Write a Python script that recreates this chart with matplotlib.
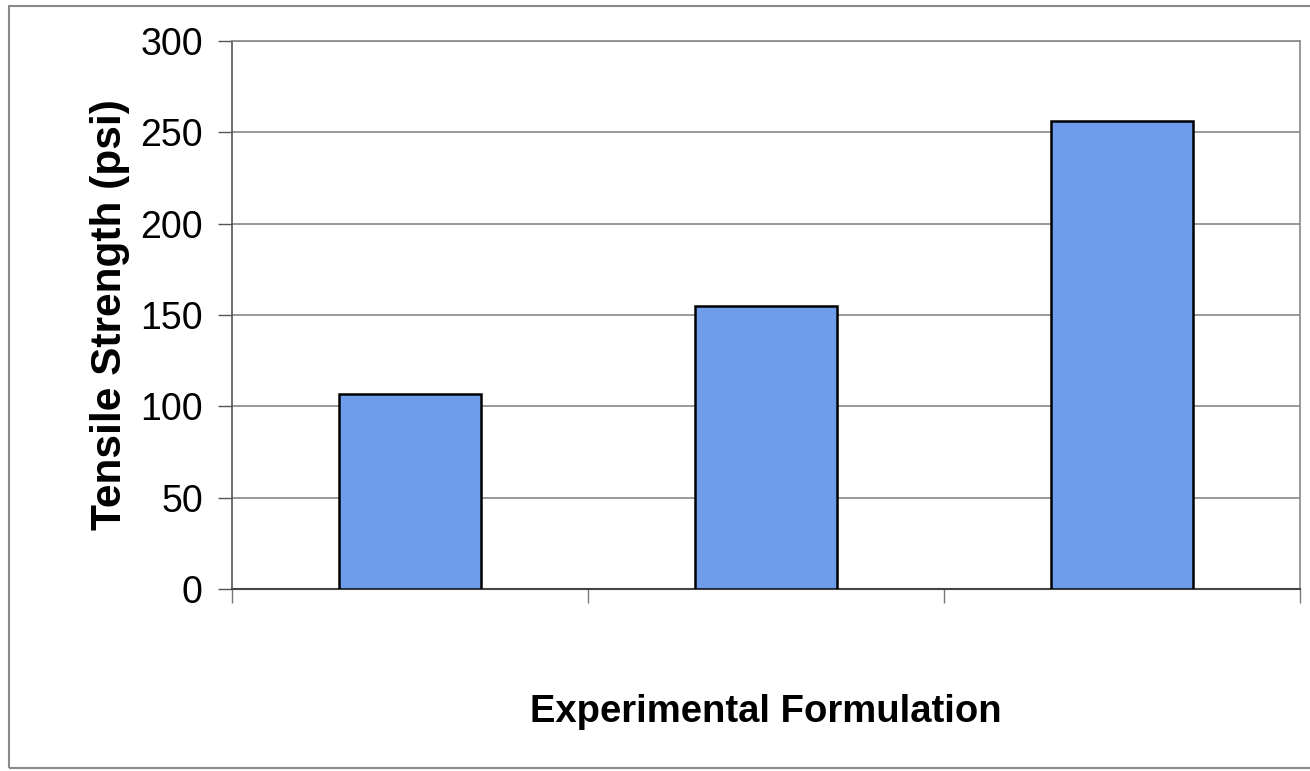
import matplotlib.pyplot as plt
from matplotlib.patches import Rectangle

# Données
formulations = ["A", "B", "C"]
tensile_psi = [107, 155, 256]
y_ticks = [0, 50, 100, 150, 200, 250, 300]

plt.rcParams['font.family'] = ['Liberation Sans', 'DejaVu Sans']

fig = plt.figure(figsize=(13.1, 7.71), dpi=100)
ax = fig.add_axes([232 / 1310, 1 - 589 / 771, (1300 - 232) / 1310, (589 - 41) / 771])

# Cadre gris autour de la figure
fig.patches.append(Rectangle((9 / 1310, 3 / 771), 1.01, 1 - 9 / 771,
                             transform=fig.transFigure, fill=False,
                             edgecolor='#8a8a8a', linewidth=1.5))

x = list(range(len(formulations)))
ax.bar(x, tensile_psi, width=0.4, color='#6f9deb', edgecolor='black',
       linewidth=1.8, zorder=3)

ax.set_xlim(-0.5, len(formulations) - 0.5)
ax.set_ylim(0, 300)
ax.set_yticks(y_ticks)
ax.set_yticklabels([str(t) for t in y_ticks], fontsize=27)
ax.set_xticks([-0.5, 0.5, 1.5, 2.5])
ax.set_xticklabels([])
ax.tick_params(axis='y', length=10, width=1, color='#555555', pad=11)
ax.tick_params(axis='x', length=10, width=1, color='#777777')

ax.yaxis.grid(True, color='#888888', linewidth=1.2, zorder=0)
ax.set_axisbelow(True)

for side in ['top', 'right']:
    ax.spines[side].set_color('#888888')
    ax.spines[side].set_linewidth(1.2)
ax.spines['left'].set_color('#555555')
ax.spines['bottom'].set_color('#444444')
ax.spines['left'].set_linewidth(1.2)
ax.spines['bottom'].set_linewidth(1.5)

ax.set_ylabel('Tensile Strength (psi)', fontsize=30.5, fontweight='bold', labelpad=7)
ax.set_xlabel('Experimental Formulation', fontsize=27.5, fontweight='bold', labelpad=62)

fig.savefig('out.png', dpi=100)
